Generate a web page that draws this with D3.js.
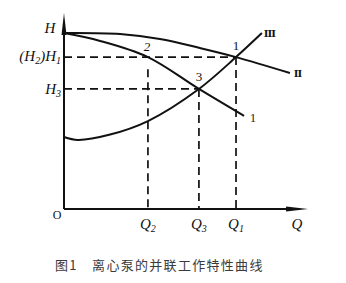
<!DOCTYPE html>
<html><head><meta charset="utf-8">
<script src="https://cdn.jsdelivr.net/npm/d3@7"></script>
<style>body{margin:0;background:#fff}svg{display:block}</style>
</head><body>
<svg id="c" width="346" height="283"></svg>
<script>
// data (arbitrary units: Q flow, H head)
const curveII  = [[0,71.8],[23,71.4],[39.3,69.4],[55.7,65.7],[70.5,62],[92.6,55.5]];   // parallel pump curve
const curve1   = [[0,71.8],[14.8,68.6],[34.4,62],[55.3,49],[73.8,38]];                 // single pump curve
const curveIII = [[0,29.4],[5.7,28.2],[18.9,30.4],[34.4,35.9],[55.3,49],[70.5,62],[81.1,71.8]]; // system curve
const pointLabels = [{name:"1",q:70.5,h:62},{name:"2",q:34.4,h:62},{name:"3",q:55.3,h:49}];
const qTicks = [{label:"Q",sub:"2",q:34.4},{label:"Q",sub:"3",q:55.3},{label:"Q",sub:"1",q:70.5}];
const curveNames = [{name:"Ⅱ",q:92.6,h:55.5},{name:"1",q:73.8,h:38},{name:"Ⅲ",q:81.1,h:71.8}];
const caption = "图1　离心泵的并联工作特性曲线";

const svg = d3.select("#c");
const x = d3.scaleLinear().domain([0,100]).range([64,308]);
const y = d3.scaleLinear().domain([0,80]).range([209,13]);
const ink = "#111";
const serif = "'Liberation Serif','DejaVu Serif',serif";

// axes
svg.append("line").attr("x1",x(0)).attr("x2",x(96)).attr("y1",y(0)).attr("y2",y(0)).attr("stroke",ink).attr("stroke-width",2);
svg.append("line").attr("x1",x(0)).attr("x2",x(0)).attr("y1",y(0)).attr("y2",y(76)).attr("stroke",ink).attr("stroke-width",2);
// arrows
svg.append("path").attr("d",`M${x(0)-2.5},${y(71)} L${x(0)},${y(80)} L${x(0)+2.5},${y(71)} Z`).attr("fill",ink);
svg.append("path").attr("d",`M${x(91)},${y(0)-2.5} L${x(100)},${y(0)} L${x(91)},${y(0)+2.5} Z`).attr("fill",ink);

// dashed guides
const g = svg.append("g").attr("stroke",ink).attr("stroke-width",1.7).attr("stroke-dasharray","8,5").attr("fill","none");
g.append("line").attr("x1",x(0)).attr("x2",x(70.5)).attr("y1",y(62)).attr("y2",y(62));
g.append("line").attr("x1",x(0)).attr("x2",x(55.3)).attr("y1",y(49)).attr("y2",y(49));
const vTop = {"2":57,"3":49,"1":62};
qTicks.forEach(t=>{
  g.append("line").attr("x1",x(t.q)).attr("x2",x(t.q)).attr("y1",y(vTop[t.sub])).attr("y2",y(0));
});

// curves
const line = d3.line().x(d=>x(d[0])).y(d=>y(d[1])).curve(d3.curveCatmullRom.alpha(0.5));
[curveII,curve1,curveIII].forEach(c=>{
  svg.append("path").attr("d",line(c)).attr("fill","none").attr("stroke",ink).attr("stroke-width",2);
});

// text helpers
const fs = 15;
function sublabel(xp,yp,main,sub,anchor){
  const t = svg.append("text").attr("x",xp).attr("y",yp).attr("text-anchor",anchor||"middle")
    .attr("font-family",serif).attr("font-style","italic").attr("font-size",fs).attr("fill",ink);
  t.append("tspan").text(main);
  t.append("tspan").attr("dy",3).attr("font-size",10).text(sub);
  return t;
}
svg.append("text").attr("x",50).attr("y",y(71.8)).attr("text-anchor","middle").attr("font-family",serif)
  .attr("font-style","italic").attr("font-size",15).attr("fill",ink).text("H");
// (H2)H1
{
  const t = svg.append("text").attr("x",61).attr("y",y(62)+4).attr("text-anchor","end")
    .attr("font-family",serif).attr("font-style","italic").attr("font-size",fs).attr("fill",ink);
  t.append("tspan").text("(H");
  t.append("tspan").attr("dy",3).attr("font-size",10).text("2");
  t.append("tspan").attr("dy",-3).text(")H");
  t.append("tspan").attr("dy",3).attr("font-size",10).text("1");
}
sublabel(61,y(49)+5,"H","3","end");
svg.append("text").attr("x",57).attr("y",219).attr("text-anchor","middle").attr("font-family",serif)
  .attr("font-size",12).attr("fill",ink).text("O");
qTicks.forEach(t=>sublabel(x(t.q),229,t.label,t.sub,"middle"));
svg.append("text").attr("x",297).attr("y",229).attr("text-anchor","middle").attr("font-family",serif)
  .attr("font-style","italic").attr("font-size",fs).attr("fill",ink).text("Q");

// point labels
const pl = {"1":[0,-7],"2":[-1,-6],"3":[0,-8]};
pointLabels.forEach(p=>{
  svg.append("text").attr("x",x(p.q)+pl[p.name][0]).attr("y",y(p.h)+pl[p.name][1]).attr("text-anchor","middle")
    .attr("font-family",serif).attr("font-style",p.name==="2"?"italic":"normal").attr("font-size",13).attr("fill",ink).text(p.name);
});
// curve names
const cn = {"Ⅱ":[8,4],"1":[9,6],"Ⅲ":[8,4]};
curveNames.forEach(c=>{
  svg.append("text").attr("x",x(c.q)+cn[c.name][0]).attr("y",y(c.h)+cn[c.name][1]).attr("text-anchor","middle")
    .attr("font-family",serif).attr("font-weight",c.name==="1"?"normal":"bold").attr("font-size",c.name==="1"?12:10).attr("fill",ink).text(c.name);
});

// caption
svg.append("text").attr("x",55).attr("y",270).attr("font-family","'Noto Sans CJK SC',sans-serif")
  .attr("font-size",13).attr("letter-spacing",1.3).attr("fill","#3a3a3a").text(caption);
</script>
</body></html>
